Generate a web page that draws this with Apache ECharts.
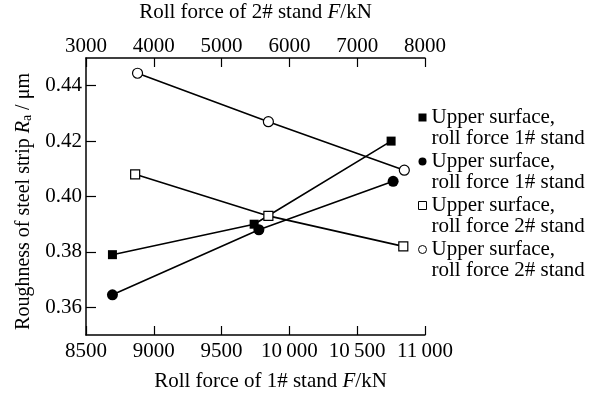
<!DOCTYPE html>
<html>
<head>
<meta charset="utf-8">
<script src="https://cdn.jsdelivr.net/npm/echarts@6/dist/echarts.min.js"></script>
<style>
  html, body { margin: 0; padding: 0; background: #fff; }
  #chart { width: 595px; height: 394px; }
</style>
</head>
<body>
<div id="chart"></div>
<script>
// Roll force of stand 1# (bottom axis), kN
const force1Ticks = [8500, 9000, 9500, 10000, 10500, 11000];
const force1TickLabels = ['8500', '9000', '9500', '10\u2009000', '10\u2009500', '11\u2009000'];
// Roll force of stand 2# (top axis), kN
const force2Ticks = [3000, 4000, 5000, 6000, 7000, 8000];
const force2TickLabels = ['3000', '4000', '5000', '6000', '7000', '8000'];
// Roughness axis ticks, μm
const roughTicks = [0.36, 0.38, 0.40, 0.42, 0.44];
const roughTickLabels = ['0.36', '0.38', '0.40', '0.42', '0.44'];

// Series names (two-line legend entries; trailing space keeps repeated names distinct)
const seriesNames = [
  'Upper surface,\nroll force 1# stand',
  'Upper surface,\nroll force 1# stand ',
  'Upper surface,\nroll force 2# stand',
  'Upper surface,\nroll force 2# stand '
];

// Stand 1# roll force vs roughness
const s1Force = [8695, 9740, 10750];
const s1Rough = [0.379, 0.390, 0.420];
const s2Force = [8695, 9775, 10765];
const s2Rough = [0.3645, 0.388, 0.4055];
// Stand 2# roll force vs roughness
const s3Force = [3725, 5690, 7680];
const s3Rough = [0.408, 0.393, 0.382];
const s4Force = [3760, 5690, 7695];
const s4Rough = [0.4445, 0.427, 0.4095];

const pair = (xs, ys) => xs.map((x, i) => [x, ys[i]]);

const FONT = "'Liberation Serif', 'Times New Roman', serif";
const INK = '#000';

const axisLineStyle = { show: true, lineStyle: { color: INK, width: 1.5 } };

const chart = echarts.init(document.getElementById('chart'), null, { renderer: 'canvas' });

const lineSeries = (name, data, xIdx, symbol, size, filled) => ({
  name: name,
  type: 'line',
  xAxisIndex: xIdx,
  yAxisIndex: 0,
  data: data,
  symbol: symbol,
  symbolSize: size,
  showSymbol: true,
  animation: false,
  lineStyle: { color: INK, width: 1.6 },
  itemStyle: { color: filled ? INK : '#fff', borderColor: INK, borderWidth: filled ? 0 : 1.2, opacity: 1 },
  emphasis: { disabled: true },
  z: 3
});

chart.setOption({
  animation: false,
  backgroundColor: '#fff',
  textStyle: { fontFamily: FONT, color: INK },
  grid: { left: 86, right: 170, top: 58, bottom: 59, containLabel: false, outerBoundsMode: 'none' },
  legend: {
    orient: 'vertical',
    left: 418,
    top: 86,
    padding: 0,
    itemWidth: 8,
    itemHeight: 8,
    itemGap: -19,
    selectedMode: false,
    // a blank leading line lets the marker sit beside the first text line
    formatter: name => ' \n' + name.trimEnd(),
    textStyle: { fontFamily: FONT, fontSize: 21, lineHeight: 21, color: INK },
    data: [
      { name: seriesNames[0], icon: 'rect', itemStyle: { color: INK, borderWidth: 0 } },
      { name: seriesNames[1], icon: 'circle', itemStyle: { color: INK, borderWidth: 0 } },
      { name: seriesNames[2], icon: 'rect', itemStyle: { color: '#fff', borderColor: INK, borderWidth: 1 } },
      { name: seriesNames[3], icon: 'circle', itemStyle: { color: '#fff', borderColor: INK, borderWidth: 1 } }
    ]
  },
  xAxis: [
    {
      type: 'value',
      position: 'bottom',
      min: 8500, max: 11000, interval: 500,
      name: 'Roll force of 1# stand {i|F}/kN',
      nameLocation: 'middle',
      nameGap: 36,
      nameTextStyle: {
        fontFamily: FONT, fontSize: 21, color: INK, padding: [0, 0, 0, 30],
        rich: { i: { fontFamily: FONT, fontSize: 21, fontStyle: 'italic', color: INK } }
      },
      axisLine: axisLineStyle,
      axisTick: { show: true, inside: true, length: 9, customValues: force1Ticks, lineStyle: { color: INK, width: 1.2 } },
      axisLabel: {
        margin: 6, fontFamily: FONT, fontSize: 21, color: INK,
        customValues: force1Ticks,
        formatter: v => force1TickLabels[force1Ticks.indexOf(v)]
      },
      splitLine: { show: false }
    },
    {
      type: 'value',
      position: 'top',
      min: 3000, max: 8000, interval: 1000,
      name: 'Roll force of 2# stand {i|F}/kN',
      nameLocation: 'middle',
      nameGap: 35,
      nameTextStyle: {
        fontFamily: FONT, fontSize: 21, color: INK,
        rich: { i: { fontFamily: FONT, fontSize: 21, fontStyle: 'italic', color: INK } }
      },
      axisLine: axisLineStyle,
      axisTick: { show: true, inside: true, length: 9, customValues: force2Ticks, lineStyle: { color: INK, width: 1.2 } },
      axisLabel: {
        margin: 1, fontFamily: FONT, fontSize: 21, color: INK,
        customValues: force2Ticks,
        formatter: v => force2TickLabels[force2Ticks.indexOf(v)]
      },
      splitLine: { show: false }
    }
  ],
  yAxis: [
    {
      type: 'value',
      min: 0.35, max: 0.45, interval: 0.01,
      name: 'Roughness of steel strip {i|R}{sub|a} / μm',
      nameLocation: 'middle',
      nameGap: 51,
      nameRotate: 90,
      nameTextStyle: {
        fontFamily: FONT, fontSize: 20, color: INK, padding: [0, 10, 0, 0],
        rich: {
          i: { fontFamily: FONT, fontSize: 20, fontStyle: 'italic', color: INK },
          sub: { fontFamily: FONT, fontSize: 14, color: INK, verticalAlign: 'bottom', padding: [8, 0, 0, 0] }
        }
      },
      axisLine: axisLineStyle,
      axisTick: { show: true, inside: true, length: 10, customValues: roughTicks, lineStyle: { color: INK, width: 1.2 } },
      axisLabel: {
        margin: 4, fontFamily: FONT, fontSize: 21, color: INK,
        customValues: roughTicks,
        formatter: v => roughTickLabels[roughTicks.findIndex(t => Math.abs(t - v) < 1e-9)]
      },
      splitLine: { show: false }
    }
  ],
  series: [
    lineSeries(seriesNames[0], pair(s1Force, s1Rough), 0, 'rect', 9, true),
    lineSeries(seriesNames[1], pair(s2Force, s2Rough), 0, 'circle', 11, true),
    lineSeries(seriesNames[2], pair(s3Force, s3Rough), 1, 'rect', 9, false),
    lineSeries(seriesNames[3], pair(s4Force, s4Rough), 1, 'circle', 10, false)
  ]
});
</script>
</body>
</html>
